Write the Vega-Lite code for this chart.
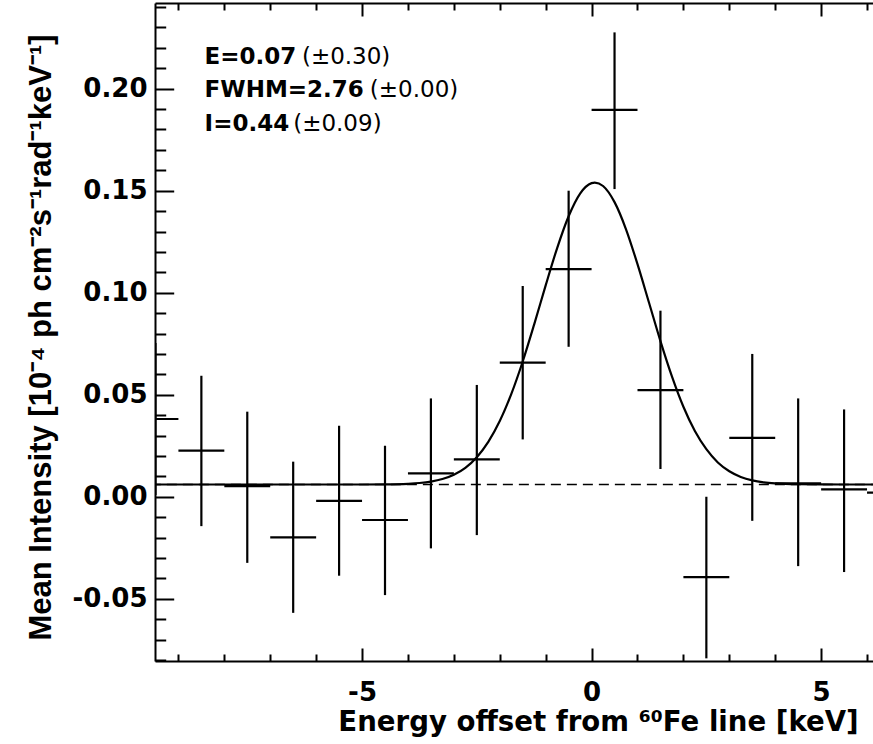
{
  "$schema": "https://vega.github.io/schema/vega-lite/v6.json",
  "autosize": "none",
  "padding": {"left": 155, "top": 3, "right": 0, "bottom": 83},
  "width": 718,
  "height": 658,
  "config": {
    "view": {"stroke": null},
    "axis": {"grid": false, "domainColor": "#000", "domainWidth": 2, "tickColor": "#000", "tickWidth": 2, "labelColor": "#000", "titleColor": "#000", "labelFont": "DejaVu Sans", "titleFont": "DejaVu Sans", "labelFontWeight": "bold", "titleFontWeight": "bold", "labelFlush": false, "labelOverlap": false}
  },
  "datasets": {
    "bars": [
      {"e": -9.5, "e0": -10, "e1": -9, "v": 0.0381, "lo": 0.0008, "hi": 0.0754},
      {"e": -8.5, "e0": -9, "e1": -8, "v": 0.0226, "lo": -0.0144, "hi": 0.0593},
      {"e": -7.5, "e0": -8, "e1": -7, "v": 0.0052, "lo": -0.0324, "hi": 0.0417},
      {"e": -6.5, "e0": -7, "e1": -6, "v": -0.0199, "lo": -0.0569, "hi": 0.0172},
      {"e": -5.5, "e0": -6, "e1": -5, "v": -0.0020, "lo": -0.0387, "hi": 0.0348},
      {"e": -4.5, "e0": -5, "e1": -4, "v": -0.0114, "lo": -0.0482, "hi": 0.0250},
      {"e": -3.5, "e0": -4, "e1": -3, "v": 0.0115, "lo": -0.0253, "hi": 0.0482},
      {"e": -2.5, "e0": -3, "e1": -2, "v": 0.0183, "lo": -0.0188, "hi": 0.0548},
      {"e": -1.5, "e0": -2, "e1": -1, "v": 0.0657, "lo": 0.0281, "hi": 0.1033},
      {"e": -0.5, "e0": -1, "e1": 0, "v": 0.1116, "lo": 0.0735, "hi": 0.1500},
      {"e": 0.5, "e0": 0, "e1": 1, "v": 0.1896, "lo": 0.1508, "hi": 0.2276},
      {"e": 1.5, "e0": 1, "e1": 2, "v": 0.0523, "lo": 0.0136, "hi": 0.0912},
      {"e": 2.5, "e0": 2, "e1": 3, "v": -0.0394, "lo": -0.0792, "hi": 0.0000},
      {"e": 3.5, "e0": 3, "e1": 4, "v": 0.0289, "lo": -0.0118, "hi": 0.0700},
      {"e": 4.5, "e0": 4, "e1": 5, "v": 0.0066, "lo": -0.0340, "hi": 0.0482},
      {"e": 5.5, "e0": 5, "e1": 6, "v": 0.0036, "lo": -0.0369, "hi": 0.0428},
      {"e": 6.5, "e0": 6, "e1": 7, "v": 0.0020, "lo": -0.0380, "hi": 0.0420}
    ],
    "curve": [
      {"x": -9.6, "y": 0.006}, {"x": -6, "y": 0.006}, {"x": -5, "y": 0.00601}, {"x": -4.5, "y": 0.00607},
      {"x": -4, "y": 0.00636}, {"x": -3.75, "y": 0.00673}, {"x": -3.5, "y": 0.00743}, {"x": -3.25, "y": 0.00868},
      {"x": -3, "y": 0.0108}, {"x": -2.75, "y": 0.0142}, {"x": -2.5, "y": 0.0194}, {"x": -2.25, "y": 0.0269},
      {"x": -2, "y": 0.0371}, {"x": -1.75, "y": 0.0503}, {"x": -1.5, "y": 0.0663}, {"x": -1.25, "y": 0.0845},
      {"x": -1, "y": 0.1036}, {"x": -0.75, "y": 0.1219}, {"x": -0.5, "y": 0.1375}, {"x": -0.25, "y": 0.1486},
      {"x": 0, "y": 0.1537}, {"x": 0.07, "y": 0.154}, {"x": 0.25, "y": 0.1523}, {"x": 0.5, "y": 0.1444},
      {"x": 0.75, "y": 0.1311}, {"x": 1, "y": 0.114}, {"x": 1.25, "y": 0.0952}, {"x": 1.5, "y": 0.0763},
      {"x": 1.75, "y": 0.059}, {"x": 2, "y": 0.0441}, {"x": 2.25, "y": 0.0322}, {"x": 2.5, "y": 0.0233},
      {"x": 2.75, "y": 0.0168}, {"x": 3, "y": 0.0125}, {"x": 3.25, "y": 0.00973}, {"x": 3.5, "y": 0.00804},
      {"x": 3.75, "y": 0.00707}, {"x": 4, "y": 0.00654}, {"x": 4.5, "y": 0.00612}, {"x": 5, "y": 0.00602},
      {"x": 6, "y": 0.006}, {"x": 6.3, "y": 0.006}
    ],
    "fit": [
      {"line": 1, "param": "E=0.07", "err": "(\u00b10.30)"},
      {"line": 2, "param": "FWHM=2.76", "err": "(\u00b10.00)"},
      {"line": 3, "param": "I=0.44", "err": "(\u00b10.09)"}
    ]
  },
  "resolve": {"axis": {"x": "independent", "y": "independent"}},
  "layer": [
    {
      "data": {"name": "bars"},
      "mark": {"type": "rule", "color": "#000", "strokeWidth": 2.2, "clip": true},
      "encoding": {
        "x": {"field": "e", "type": "quantitative", "scale": {"domain": [-9.51, 6.13], "nice": false, "zero": false},
          "axis": {"orient": "bottom", "values": [-5, 0, 5], "tickSize": -13, "labelPadding": 31, "labelFontSize": 26,
            "labelExpr": "replace(datum.label, '\u2212', '-')",
            "title": "Energy offset from \u2076\u2070Fe line [keV]", "titleFontSize": 27.6, "titleX": 443, "titleY": 69, "titleBaseline": "alphabetic"}},
        "y": {"field": "lo", "type": "quantitative", "scale": {"domain": [-0.0805, 0.242], "nice": false, "zero": false},
          "axis": {"orient": "left", "values": [-0.05, 0, 0.05, 0.1, 0.15, 0.2], "tickSize": -18.7, "labelPadding": 26.7, "labelFontSize": 26,
            "format": ".2f", "labelExpr": "replace(datum.label, '\u2212', '-')",
            "title": "Mean Intensity [10\u207b\u2074 ph cm\u207b\u00b2s\u207b\u00b9rad\u207b\u00b9keV\u207b\u00b9]", "titleFont": "Liberation Sans", "titleFontSize": 31, "titleX": -105, "titleY": 334, "titleAngle": -90, "titleBaseline": "alphabetic"}},
        "y2": {"field": "hi"}
      }
    },
    {
      "data": {"name": "bars"},
      "mark": {"type": "rule", "color": "#000", "strokeWidth": 2.2, "clip": true},
      "encoding": {
        "x": {"field": "e0", "type": "quantitative",
          "axis": {"orient": "bottom", "values": [-9, -8, -7, -6, -4, -3, -2, -1, 1, 2, 3, 4, 6], "tickSize": -7, "labels": false, "domain": false, "title": null}},
        "x2": {"field": "e1"},
        "y": {"field": "v", "type": "quantitative",
          "axis": {"orient": "left", "values": [-0.08, -0.07, -0.06, -0.04, -0.03, -0.02, -0.01, 0.01, 0.02, 0.03, 0.04, 0.06, 0.07, 0.08, 0.09, 0.11, 0.12, 0.13, 0.14, 0.16, 0.17, 0.18, 0.19, 0.21, 0.22, 0.23, 0.24], "tickSize": -10.7, "labels": false, "domain": false, "title": null}}
      }
    },
    {
      "data": {"name": "curve"},
      "mark": {"type": "line", "color": "#000", "strokeWidth": 1.5, "strokeDash": [10, 6], "clip": true},
      "encoding": {
        "x": {"field": "x", "type": "quantitative",
          "axis": {"orient": "top", "values": [-5, 0, 5], "tickSize": -13, "labels": false, "domain": true, "title": null}},
        "y": {"datum": 0.006, "type": "quantitative", "axis": null}
      }
    },
    {
      "data": {"name": "curve"},
      "mark": {"type": "line", "color": "#000", "strokeWidth": 2.2, "interpolate": "monotone", "clip": true},
      "encoding": {
        "x": {"field": "x", "type": "quantitative",
          "axis": {"orient": "top", "values": [-9, -8, -7, -6, -4, -3, -2, -1, 1, 2, 3, 4, 6], "tickSize": -7, "labels": false, "domain": false, "title": null}},
        "y": {"field": "y", "type": "quantitative", "axis": null}
      }
    },
    {
      "data": {"name": "fit"},
      "transform": [{"filter": "datum.line == 1"}],
      "layer": [
        {
          "mark": {"type": "text", "font": "DejaVu Sans", "fontWeight": "bold", "fontSize": 23, "align": "left", "baseline": "alphabetic", "color": "#000"},
          "encoding": {"x": {"datum": -8.43, "type": "quantitative", "axis": null}, "y": {"datum": 0.2121, "type": "quantitative", "axis": null}, "text": {"field": "param"}}
        },
        {
          "mark": {"type": "text", "font": "DejaVu Sans", "fontWeight": "normal", "fontSize": 23, "align": "left", "baseline": "alphabetic", "color": "#000"},
          "encoding": {"x": {"datum": -6.31, "type": "quantitative", "axis": null}, "y": {"datum": 0.2121, "type": "quantitative", "axis": null}, "text": {"field": "err"}}
        }
      ]
    },
    {
      "data": {"name": "fit"},
      "transform": [{"filter": "datum.line == 2"}],
      "layer": [
        {
          "mark": {"type": "text", "font": "DejaVu Sans", "fontWeight": "bold", "fontSize": 23, "align": "left", "baseline": "alphabetic", "color": "#000"},
          "encoding": {"x": {"datum": -8.43, "type": "quantitative", "axis": null}, "y": {"datum": 0.1958, "type": "quantitative", "axis": null}, "text": {"field": "param"}}
        },
        {
          "mark": {"type": "text", "font": "DejaVu Sans", "fontWeight": "normal", "fontSize": 23, "align": "left", "baseline": "alphabetic", "color": "#000"},
          "encoding": {"x": {"datum": -4.83, "type": "quantitative", "axis": null}, "y": {"datum": 0.1958, "type": "quantitative", "axis": null}, "text": {"field": "err"}}
        }
      ]
    },
    {
      "data": {"name": "fit"},
      "transform": [{"filter": "datum.line == 3"}],
      "layer": [
        {
          "mark": {"type": "text", "font": "DejaVu Sans", "fontWeight": "bold", "fontSize": 23, "align": "left", "baseline": "alphabetic", "color": "#000"},
          "encoding": {"x": {"datum": -8.43, "type": "quantitative", "axis": null}, "y": {"datum": 0.1794, "type": "quantitative", "axis": null}, "text": {"field": "param"}}
        },
        {
          "mark": {"type": "text", "font": "DejaVu Sans", "fontWeight": "normal", "fontSize": 23, "align": "left", "baseline": "alphabetic", "color": "#000"},
          "encoding": {"x": {"datum": -6.5, "type": "quantitative", "axis": null}, "y": {"datum": 0.1794, "type": "quantitative", "axis": null}, "text": {"field": "err"}}
        }
      ]
    }
  ]
}
